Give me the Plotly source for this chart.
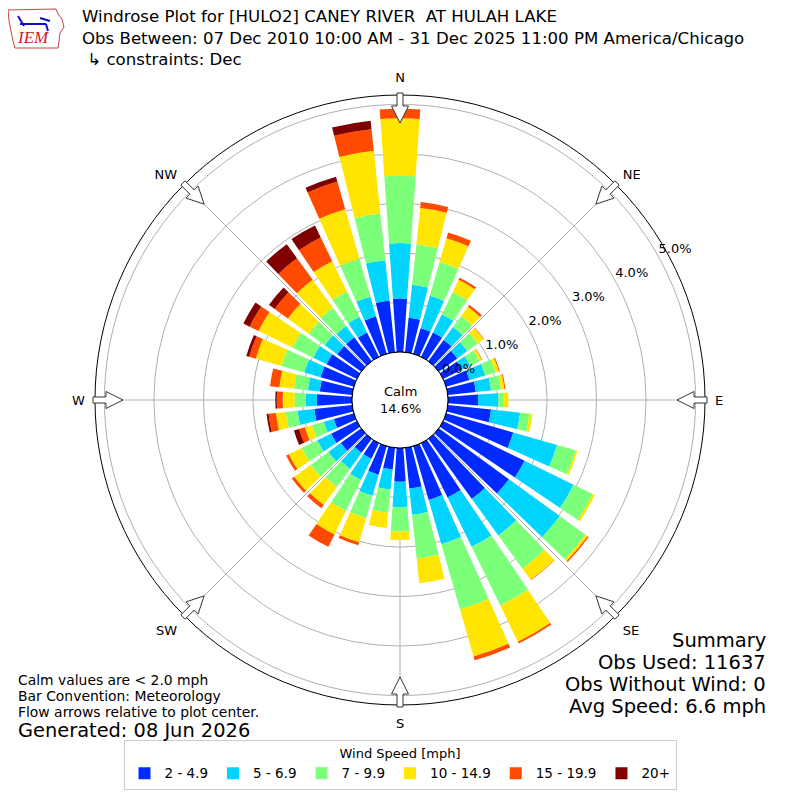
import math
import plotly.graph_objects as go

# ---------------- data (percent of observations) ----------------
directions = [0, 10, 20, 30, 40, 50, 60, 70, 80, 90, 100, 110, 120, 130, 140, 150, 160, 170,
              180, 190, 200, 210, 220, 230, 240, 250, 260, 270, 280, 290, 300, 310, 320, 330, 340, 350]

speed_bins = ["2 - 4.9", "5 - 6.9", "7 - 9.9", "10 - 14.9", "15 - 19.9", "20+"]

pct_2_5 = [1.08, 0.70, 0.54, 0.55, 0.53, 0.46, 0.42, 0.49, 0.57, 0.61, 0.88, 1.41, 1.83, 1.75, 1.50, 1.22, 1.13, 0.83,
           0.68, 0.44, 0.60, 0.35, 0.35, 0.51, 0.58, 0.42, 0.77, 0.71, 0.66, 0.70, 0.68, 0.60, 0.60, 0.55, 0.79, 1.05]
pct_5_7 = [1.12, 0.67, 0.68, 0.41, 0.32, 0.25, 0.19, 0.33, 0.31, 0.41, 0.59, 0.92, 1.10, 1.27, 0.91, 1.11, 0.93, 0.53,
           0.51, 0.41, 0.44, 0.48, 0.40, 0.31, 0.31, 0.21, 0.34, 0.23, 0.24, 0.34, 0.30, 0.31, 0.28, 0.35, 0.41, 0.82]
pct_7_10 = [1.36, 0.82, 0.71, 0.50, 0.28, 0.27, 0.21, 0.22, 0.20, 0.10, 0.19, 0.39, 0.43, 0.64, 0.83, 1.32, 1.37, 0.89,
            0.50, 0.47, 0.47, 0.69, 0.45, 0.44, 0.35, 0.25, 0.24, 0.22, 0.28, 0.48, 0.47, 0.40, 0.46, 0.57, 0.80, 0.95]
pct_10_15 = [1.16, 0.74, 0.50, 0.27, 0.23, 0.14, 0.05, 0.07, 0.07, 0.10, 0.06, 0.04, 0.05, 0.05, 0.28, 0.81, 0.99, 0.50,
             0.17, 0.31, 0.51, 0.53, 0.45, 0.41, 0.29, 0.15, 0.20, 0.24, 0.30, 0.54, 0.76, 0.52, 0.69, 0.68, 1.04, 1.27]
pct_15_20 = [0.19, 0.12, 0.12, 0.05, 0.05, 0.01, 0.01, 0.02, 0.02, 0.00, 0.00, 0.00, 0.00, 0.03, 0.01, 0.04, 0.08, 0.00,
             0.00, 0.00, 0.06, 0.28, 0.08, 0.06, 0.06, 0.12, 0.15, 0.12, 0.19, 0.14, 0.20, 0.33, 0.54, 0.53, 0.58, 0.44]
pct_20_up = [0.00, 0.00, 0.00, 0.00, 0.00, 0.00, 0.00, 0.00, 0.00, 0.00, 0.00, 0.00, 0.00, 0.00, 0.00, 0.00, 0.00, 0.00,
             0.00, 0.00, 0.00, 0.00, 0.00, 0.00, 0.00, 0.11, 0.04, 0.03, 0.00, 0.06, 0.14, 0.14, 0.35, 0.27, 0.10, 0.17]

series = [pct_2_5, pct_5_7, pct_7_10, pct_10_15, pct_15_20, pct_20_up]
colors = ["rgb(0,42,255)", "rgb(0,212,255)", "rgb(124,255,121)",
          "rgb(255,229,0)", "rgb(255,74,0)", "rgb(128,0,0)"]

radial_ticks = [0, 1, 2, 3, 4, 5]
compass_vals = [0, 45, 90, 135, 180, 225, 270, 315]
compass_text = ["N", "NE", "E", "SE", "S", "SW", "W", "NW"]

calm_pct = "14.6%"
title_lines = ["Windrose Plot for [HULO2] CANEY RIVER  AT HULAH LAKE",
               "Obs Between: 07 Dec 2010 10:00 AM - 31 Dec 2025 11:00 PM America/Chicago",
               " \u21b3 constraints: Dec"]
summary_lines = ["Summary", "Obs Used: 11637", "Obs Without Wind: 0", "Avg Speed: 6.6 mph"]
note_lines = ["Calm values are < 2.0 mph", "Bar Convention: Meteorology",
              "Flow arrows relative to plot center."]
generated = "Generated: 08 Jun 2026"

# ---------------- geometry (page pixels; the page body adds an 8px margin) ----------------
OFF = 8
W = H = 800 - OFF
CX, CY = 400, 400          # page pixels
R_OUT = 305
R_CALM = 48
R_MAX = 5.19
FONT = "DejaVu Sans"


def px(x, y):
    """page pixel -> paper coordinates"""
    return (x - OFF) / W, 1 - (y - OFF) / H


fig = go.Figure()
for name, vals, col in zip(speed_bins, series, colors):
    fig.add_trace(go.Barpolar(
        r=vals, theta=directions, width=8, name=name,
        marker=dict(color=col, line=dict(width=0)),
        hoverinfo="skip",
    ))

# calm circle outline
fig.add_trace(go.Scatterpolar(
    r=[0] * 361, theta=list(range(361)), mode="lines",
    line=dict(color="black", width=1), showlegend=False, hoverinfo="skip"))

# radial tick labels (placed at the tick radius, text up-right of it)
fig.add_trace(go.Scatterpolar(
    r=radial_ticks, theta=[61] * len(radial_ticks), mode="text",
    text=["%.1f%%" % t for t in radial_ticks], textposition="top right",
    textfont=dict(family=FONT, size=13, color="black"),
    showlegend=False, hoverinfo="skip"))

dx0, _ = px(CX - R_OUT, 0)
dx1, _ = px(CX + R_OUT, 0)
_, dy1 = px(0, CY - R_OUT)
_, dy0 = px(0, CY + R_OUT)
fig.update_layout(
    width=W, height=H,
    margin=dict(l=0, r=0, t=0, b=0),
    paper_bgcolor="white", plot_bgcolor="white",
    font=dict(family=FONT, size=13, color="black"),
    polar=dict(
        domain=dict(x=[dx0, dx1], y=[dy0, dy1]),
        bgcolor="white",
        hole=R_CALM / R_OUT,
        barmode="stack",
        radialaxis=dict(range=[0, R_MAX], tickvals=radial_ticks, showticklabels=False,
                        ticks="", showline=False, gridcolor="#b0b0b0", gridwidth=0.8,
                        layer="above traces"),
        angularaxis=dict(rotation=90, direction="clockwise",
                         tickvals=compass_vals, ticktext=compass_text,
                         ticks="outside", ticklen=7, tickcolor="rgba(0,0,0,0)",
                         showline=True, linecolor="black", linewidth=1,
                         gridcolor="#b0b0b0", gridwidth=0.8,
                         tickfont=dict(family=FONT, size=13, color="black"),
                         layer="above traces"),
    ),
    legend=dict(
        orientation="h", x=px(400, 0)[0], xanchor="center", y=px(0, 790)[1], yanchor="bottom",
        title=dict(text="Wind Speed [mph]", side="top center", font=dict(size=13)),
        font=dict(family=FONT, size=13.5), bordercolor="#cccccc", borderwidth=1,
        bgcolor="white", itemwidth=30, traceorder="normal",
    ),
    showlegend=True,
)

# ---------------- flow arrows ----------------
shapes = []
for a in compass_vals:
    ar = math.radians(a)
    ux, uy = math.sin(ar), -math.cos(ar)
    pxv, pyv = math.cos(ar), math.sin(ar)
    pts = [(307, -3), (294, -3), (294, -8.5), (277, 0), (294, 8.5), (294, 3), (307, 3)]
    coords = []
    for rr, ww in pts:
        x = CX + rr * ux + ww * pxv
        y = CY + rr * uy + ww * pyv
        coords.append(px(x, y))
    path = "M " + " L ".join("%.5f,%.5f" % c for c in coords) + " Z"
    shapes.append(dict(type="path", path=path, xref="paper", yref="paper",
                       fillcolor="white", line=dict(color="#333333", width=1)))

# simple IEM logo outline
iowa = [(8, 10), (56, 9), (58, 14), (62, 19), (64, 27), (60, 33), (59, 41), (58, 48),
        (15, 48), (13, 41), (11, 31), (9, 21)]
path = "M " + " L ".join("%.5f,%.5f" % px(x, y) for x, y in iowa) + " Z"
shapes.append(dict(type="path", path=path, xref="paper", yref="paper",
                   line=dict(color="#d04040", width=1), fillcolor="rgba(0,0,0,0)"))
for (x0, y0, x1, y1) in [(20, 24, 46, 24), (18, 16, 24, 26), (40, 18, 50, 21), (46, 24, 48, 31)]:
    a0 = px(x0, y0)
    a1 = px(x1, y1)
    shapes.append(dict(type="line", xref="paper", yref="paper", x0=a0[0], y0=a0[1],
                       x1=a1[0], y1=a1[1], line=dict(color="#1010c0", width=2)))
fig.update_layout(shapes=shapes)

# ---------------- annotations ----------------
ann = []


def text(x, y, s, size, xanchor="left", color="black", family=FONT, italic=False, align="left"):
    xx, yy = px(x, y)
    t = "<i>%s</i>" % s if italic else s
    ann.append(dict(x=xx, y=yy, xref="paper", yref="paper", text=t, showarrow=False,
                    xanchor=xanchor, yanchor="middle", align=align,
                    font=dict(size=size, color=color, family=family)))


text(80, 38, "<br>".join(s.replace("  ", " \u00a0") for s in title_lines), 16.6)
text(33, 38, "IEM", 17, xanchor="center", color="#cc2222", family="Liberation Serif", italic=True)

text(CX, CY, "Calm<br>" + calm_pct, 13, xanchor="center", align="center")

for i, s in enumerate(summary_lines):
    text(768, 640 + 22 * i, s, 19.5, xanchor="right")
for i, s in enumerate(note_lines):
    text(16, 680 + 16 * i, s, 13.9)
text(16, 730, generated, 19.4)

fig.update_layout(annotations=ann)

fig.write_html("out.html")
